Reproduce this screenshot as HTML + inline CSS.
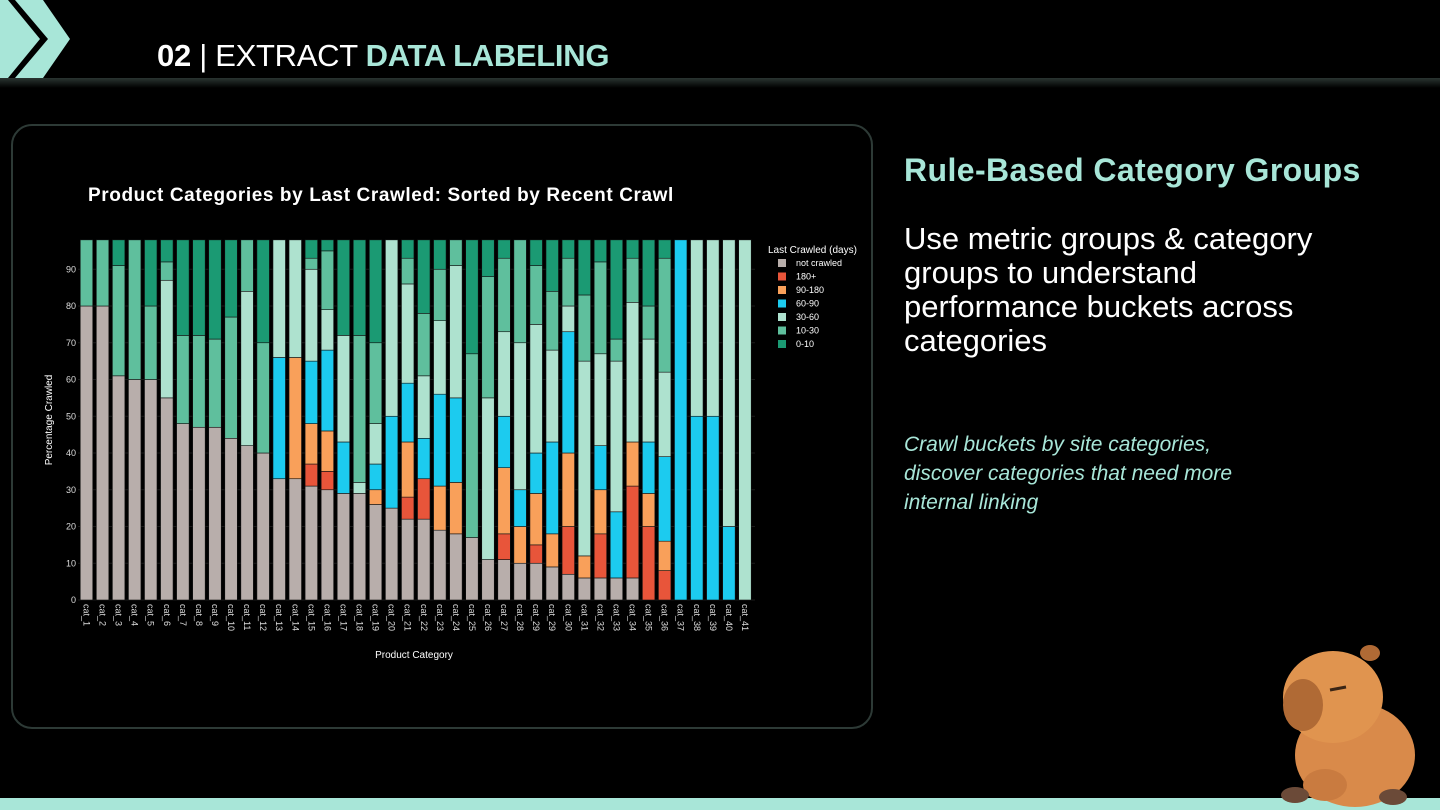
<!DOCTYPE html>
<html><head><meta charset="utf-8"><style>
body{margin:0;width:1440px;height:810px;background:#000;overflow:hidden;position:relative;font-family:"Liberation Sans",sans-serif}
.abs{position:absolute}
</style></head><body>
<svg class="abs" style="left:0;top:0" width="1440" height="810">
<defs><linearGradient id="hb" x1="0" y1="0" x2="0" y2="1"><stop offset="0" stop-color="#2a3532"/><stop offset="1" stop-color="#000"/></linearGradient></defs>
<rect x="0" y="78" width="1440" height="10" fill="url(#hb)"/>
<polygon points="0,0 8,0 40,39 8,78 0,78" fill="#a8e6d8"/>
<polygon points="15,0 43,0 70,39 43,78 15,78 48,39" fill="#a8e6d8"/>
<rect x="0" y="798" width="1440" height="12" fill="#a8e6d8"/>
<rect x="12" y="125" width="860" height="603" rx="20" fill="#000" stroke="#2d3a36" stroke-width="2"/>
</svg>
<div class="abs" style="left:157px;top:38px;font-size:31px;color:#fff;letter-spacing:-0.3px;white-space:nowrap"><b>02</b> <span style="font-weight:300">|</span> EXTRACT <b style="color:#a8e6d8">DATA LABELING</b></div>
<div class="abs" style="left:904px;top:152px;font-size:32px;letter-spacing:0.4px;font-weight:bold;color:#a8e6d8;white-space:nowrap">Rule-Based Category Groups</div>
<div class="abs" style="left:904px;top:222px;width:455px;font-size:31px;line-height:34px;color:#fff">Use metric groups &amp; category groups to understand performance buckets across categories</div>
<div class="abs" style="left:904px;top:430px;width:375px;font-size:21px;line-height:29px;font-style:italic;color:#a8e6d8">Crawl buckets by site categories, discover categories that need more internal linking</div>
<div class="abs" style="left:88px;top:185px;font-size:19px;letter-spacing:0.6px;font-weight:bold;color:#fff;white-space:nowrap">Product Categories by Last Crawled: Sorted by Recent Crawl</div>
<svg id="chart" class="abs" style="left:0;top:0" width="900" height="700"></svg>
<svg class="abs" style="left:1275px;top:635px" width="150" height="175">
<ellipse cx="80" cy="120" rx="60" ry="52" fill="#d98a4a"/>
<ellipse cx="58" cy="62" rx="50" ry="46" fill="#e0944f"/>
<ellipse cx="28" cy="70" rx="20" ry="26" fill="#b06a35"/>
<ellipse cx="95" cy="18" rx="10" ry="8" fill="#b06a35"/>
<path d="M55 55 l16 -3" stroke="#3a2515" stroke-width="3"/>
<ellipse cx="50" cy="150" rx="22" ry="16" fill="#c97b40"/>
<ellipse cx="20" cy="160" rx="14" ry="8" fill="#6b4a38"/>
<ellipse cx="118" cy="162" rx="14" ry="8" fill="#6b4a38"/>
</svg>
<script>
const categories=["cat_1","cat_2","cat_3","cat_4","cat_5","cat_6","cat_7","cat_8","cat_9","cat_10","cat_11","cat_12","cat_13","cat_14","cat_15","cat_16","cat_17","cat_18","cat_19","cat_20","cat_21","cat_22","cat_23","cat_24","cat_25","cat_26","cat_27","cat_28","cat_29","cat_29","cat_30","cat_31","cat_32","cat_33","cat_34","cat_35","cat_36","cat_37","cat_38","cat_39","cat_40","cat_41"];
const notCrawled=[80,80,61,60,60,55,48,47,47,44,42,40,33,33,31,30,29,29,26,25,22,22,19,18,17,11,11,10,10,9,7,6,6,6,6,0,0,0,0,0,0,0];
const d180=[0,0,0,0,0,0,0,0,0,0,0,0,0,0,6,5,0,0,0,0,6,11,0,0,0,0,7,0,5,0,13,0,12,0,25,20,8,0,0,0,0,0];
const d90=[0,0,0,0,0,0,0,0,0,0,0,0,0,33,11,11,0,0,4,0,15,0,12,14,0,0,18,10,14,9,20,6,12,0,12,9,8,0,0,0,0,0];
const d60=[0,0,0,0,0,0,0,0,0,0,0,0,33,0,17,22,14,0,7,25,16,11,25,23,0,0,14,10,11,25,33,0,12,18,0,14,23,98,50,50,20,0];
const d30=[0,0,0,0,0,32,0,0,0,0,42,0,32,32,25,11,29,3,11,48,27,17,20,36,0,44,23,40,35,25,7,53,25,41,38,28,23,0,48,48,78,98];
const d10=[18,18,30,38,20,5,24,25,24,33,14,30,0,0,3,16,0,40,22,0,7,17,14,7,50,33,20,28,16,16,13,18,25,6,12,9,31,0,0,0,0,0];
const d0=[0,0,7,0,18,6,26,26,27,21,0,28,0,0,5,3,26,26,28,0,5,20,8,0,31,10,5,0,7,14,5,15,6,27,5,18,5,0,0,0,0,0];
const yTicks=[0,10,20,30,40,50,60,70,80,90];
const seriesNames=["not crawled","180+","90-180","60-90","30-60","10-30","0-10"];
const seriesColors=["#b8aeab","#e8553a","#f9a05a","#1ccbef","#aee2cf","#5fbf9d","#1b9a73"];
const series=[notCrawled,d180,d90,d60,d30,d10,d0];
const NS="http://www.w3.org/2000/svg";
const svg=document.getElementById('chart');
const y0=600,pxPer=3.675,x0=86.5,step=16.06,bw=12.5;
const yS=v=>y0-v*pxPer, xS=i=>x0+i*step;
function mk(t,a){const e=document.createElementNS(NS,t);for(const k in a)e.setAttribute(k,a[k]);svg.appendChild(e);return e;}
yTicks.forEach(t=>{
 const g=mk('line',{x1:78,x2:755,y1:yS(t),y2:yS(t),stroke:'#1a1a1a','stroke-width':1});
 
 
 const tx=mk('text',{x:76,y:yS(t)+3,'text-anchor':'end','font-size':9,fill:'#ddd'});
 tx.textContent=t;
 
 
});
categories.forEach((c,i)=>{
 let acc=0;
 series.forEach((s,k)=>{
  const v=s[i]; if(v<=0)return;
  const r=mk('rect',{x:xS(i)-bw/2,y:yS(acc+v),width:bw,height:v*pxPer,fill:seriesColors[k],stroke:'#111','stroke-width':0.6});
  
  
  acc+=v;
 });
 const t=mk('text',{x:0,y:0,'font-size':9,fill:'#ddd',transform:`translate(${xS(i)-3},${y0+4}) rotate(90)`});
 t.textContent=c;
 
 
});
let yt=mk('text',{x:0,y:0,'font-size':10,fill:'#fff','text-anchor':'middle',transform:'translate(52,420) rotate(-90)'});
yt.textContent='Percentage Crawled';


let xt=mk('text',{x:414,y:658,'font-size':10,fill:'#fff','text-anchor':'middle'});
xt.textContent='Product Category';


let lt=mk('text',{x:768,y:253,'font-size':10,fill:'#fff'});
lt.textContent='Last Crawled (days)';


seriesNames.forEach((n,k)=>{
 const y=263+k*13.5;
 const r=mk('rect',{x:778,y:y-4,width:8,height:8,fill:seriesColors[k]});
 
 
 const t=mk('text',{x:796,y:y+3,'font-size':9,fill:'#fff'});
 t.textContent=n;
 
 
});
</script>
</body></html>
